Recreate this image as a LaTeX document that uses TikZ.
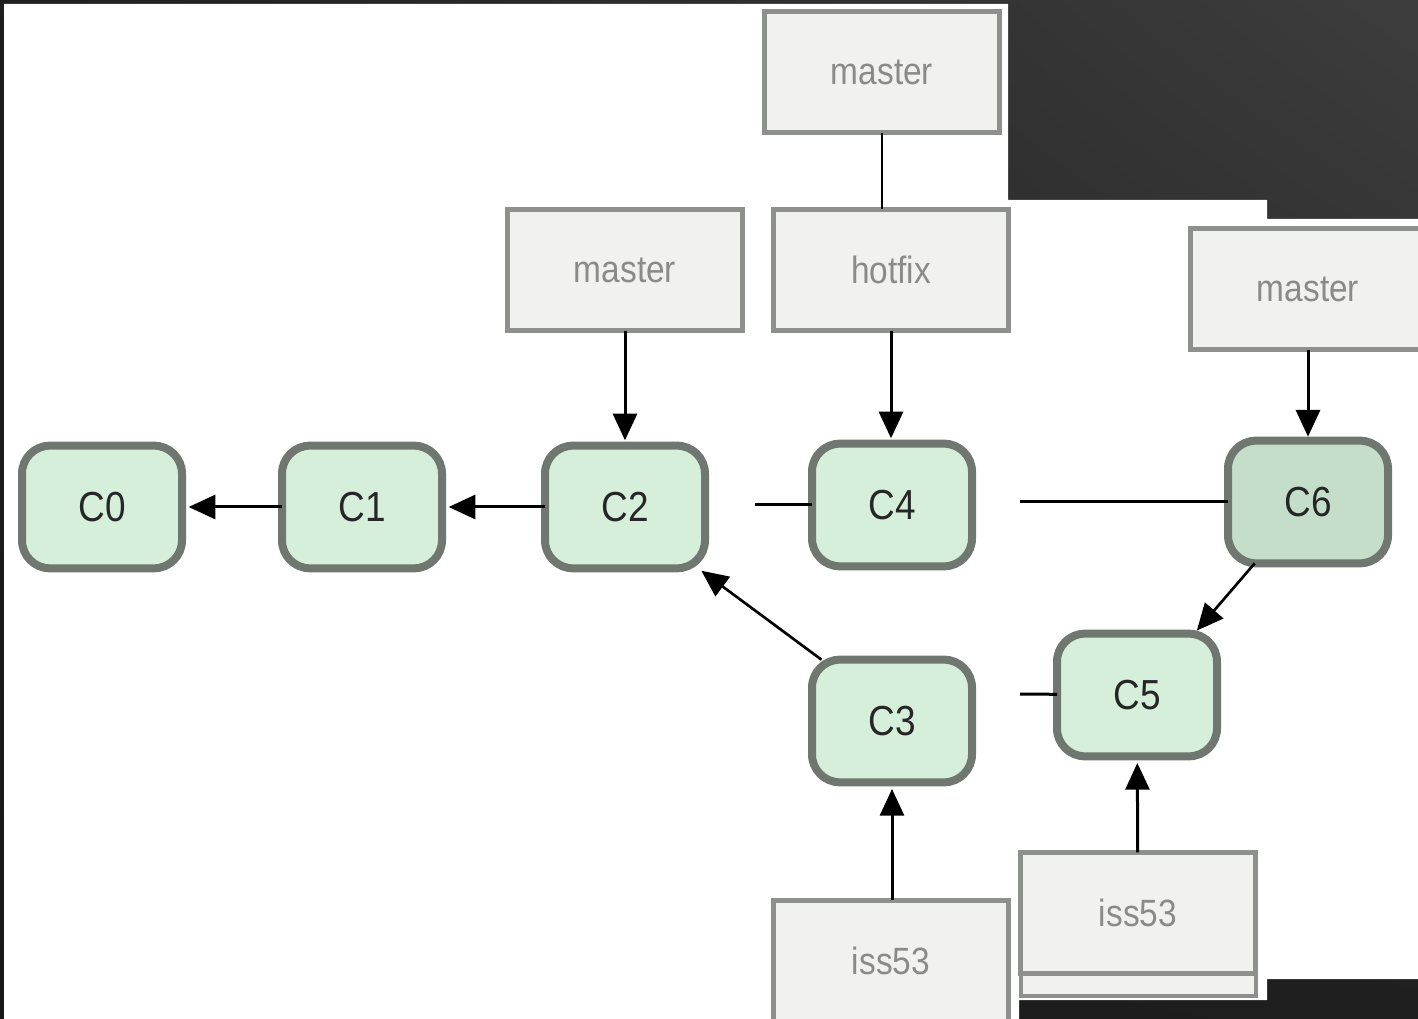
\documentclass[tikz,border=0pt]{standalone}
\usepackage{fontspec}
\setmainfont{Liberation Sans}
\newfontfamily\commitfont[FakeStretch=0.88]{Liberation Sans}
\usetikzlibrary{arrows.meta,shadings}

\definecolor{commitfill}{HTML}{D6EFDA}
\definecolor{mergefill}{HTML}{C4DEC9}
\definecolor{commitline}{HTML}{6F7770}
\definecolor{reffill}{HTML}{F1F2F0}
\definecolor{refline}{HTML}{8E908E}
\definecolor{reftext}{HTML}{8A8A8A}

\tikzset{every picture/.style={line width=0.75pt}}
\tikzset{
  commit/.style={draw=commitline, fill=commitfill, line width=6pt, rounded corners=21pt,
    minimum width=120pt, minimum height=92pt, inner sep=0pt, outer sep=0pt,
    font=\commitfont\fontsize{31.5}{32}\selectfont, text=black!85},
  branch/.style={draw=refline, fill=reffill, line width=3.75pt,
    minimum width=176pt, minimum height=91pt, inner sep=0pt, outer sep=0pt,
    font=\commitfont\fontsize{28.5}{30}\selectfont, text=reftext},
  ptr/.style={line width=2.25pt, -{Triangle[width=18pt,length=20pt]}},
  link/.style={line width=2.25pt}
}

\begin{document}
\begin{tikzpicture}[x=0.75pt,y=0.75pt,yscale=-1,xscale=1]

                  \useasboundingbox (0,0) rectangle (1418,1019);
                  \clip (0,0) rectangle (1418,1019);

                  % backdrop
                  \shade[upper left=black!88, upper right=black!76, lower left=black!91, lower right=black!88] (0,0) rectangle (1418,1019);
                  \fill[white] (4,4) -- (1008,4) -- (1008,200) -- (1267,200) -- (1267,219) -- (1418,219) -- (1418,979) -- (1267,979) -- (1267,1000) -- (1019,1000) -- (1019,1019) -- (4,1019) -- cycle;

                  % commits
                  \node [commit] (C0) at (102,507) {C0};
                  \node [commit] (C1) at (362,507) {C1};
                  \node [commit] (C2) at (625,507) {C2};
                  \node [commit] (C4) at (892,505) {C4};
                  \node [commit, fill=mergefill] (C6) at (1308,502) {C6};
                  \node [commit] (C3) at (892,721) {C3};
                  \node [commit] (C5) at (1137,695) {C5};

                  % branches
                  \node [branch] (mstrA) at (882,72) {master};
                  \node [branch] (mstrB) at (625,270) {master};
                  \node [branch] (hotfix) at (891,270) {hotfix};
                  \node [branch] (mstrC) at (1308,289) {master};
                  \node [branch] (issA) at (891,961) {iss53};
                  \draw [draw=refline, fill=reffill, line width=3pt] (1021,940) rectangle (1256,996);
                  \node [branch] (issB) at (1138,913) {iss53};

                  \coordinate (stubA) at (755,505);
                  \coordinate (stubB) at (1020,502);
                  \coordinate (stubC) at (1020,694);

                  % arrows
                  \draw [link, line width=1.5pt] (mstrA.south) -- (mstrA.south |- hotfix.north);
                  \draw [ptr, shorten >=4pt] (mstrB) -- (C2);
                  \draw [ptr, shorten >=4pt] (hotfix.south) -- (hotfix.south |- C4.north);
                  \draw [ptr, shorten >=3pt] (mstrC) -- (C6);
                  \draw [ptr, shorten >=5pt] (C1) -- (C0);
                  \draw [ptr, shorten >=5pt] (C2) -- (C1);
                  \draw [link] (stubA) -- (C4);
                  \draw [link] (stubB) -- (C6);
                  \draw [link] (stubC) -- (C5);
                  \draw [ptr, line width=2pt, shorten >=3pt] (C3.139) -- (C2.320);
                  \draw [ptr, line width=2pt, shorten >=3pt] (C6.229) -- (C5.47);
                  \draw [ptr, shorten >=5pt] (C3.south |- issA.north) -- (C3.south);
                  \draw [ptr, shorten >=5pt] (issB) -- (C5);

              \end{tikzpicture}
\end{document}
